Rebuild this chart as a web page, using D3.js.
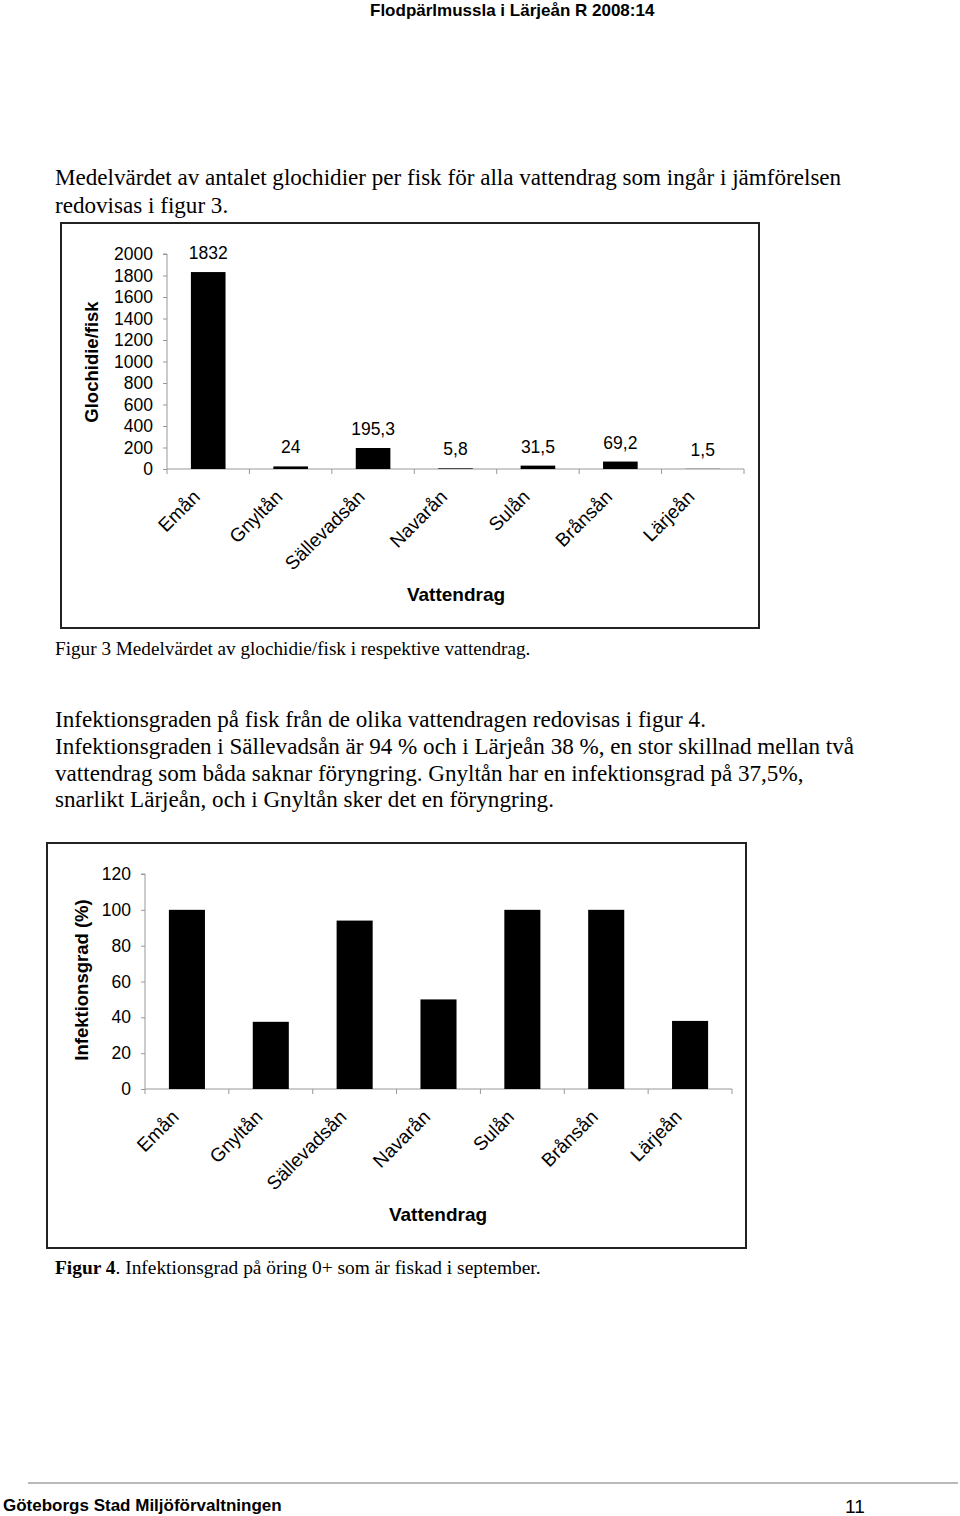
<!DOCTYPE html>
<html>
<head>
<meta charset="utf-8">
<script src="https://cdn.jsdelivr.net/npm/d3@7/dist/d3.min.js"></script>
<style>
  html, body { margin: 0; padding: 0; background: #fff; }
  svg { display: block; }
  .serif { font-family: "Liberation Serif", "Times New Roman", serif; fill: #000; }
  .sans { font-family: "Liberation Sans", Arial, sans-serif; fill: #000; }
</style>
</head>
<body>
<svg id="page" width="960" height="1516"></svg>
<script>
// ---- data ----
const categories = ["Emån", "Gnyltån", "Sällevadsån", "Navarån", "Sulån", "Brånsån", "Lärjeån"];
const glochidier = [1832, 24, 195.3, 5.8, 31.5, 69.2, 1.5];
const infektionsgrad = [100, 37.5, 94, 50, 100, 100, 38];
const ticks1 = [0, 200, 400, 600, 800, 1000, 1200, 1400, 1600, 1800, 2000];
const ticks2 = [0, 20, 40, 60, 80, 100, 120];

const svg = d3.select("#page");
svg.append("rect").attr("width", 960).attr("height", 1516).attr("fill", "#fff");

// ---- page text ----
svg.append("text").attr("class", "sans").attr("x", 370).attr("y", 16)
  .attr("font-size", 17).attr("font-weight", "bold")
  .text("Flodpärlmussla i Lärjeån R 2008:14");

function serifLine(txt, x, y, size) {
  return svg.append("text").attr("class", "serif").attr("x", x).attr("y", y)
    .attr("font-size", size).text(txt);
}
serifLine("Medelvärdet av antalet glochidier per fisk för alla vattendrag som ingår i jämförelsen", 55, 185, 23.1);
serifLine("redovisas i figur 3.", 55, 213, 23.1);
serifLine("Figur 3 Medelvärdet av glochidie/fisk i respektive vattendrag.", 55, 655, 19.2);
serifLine("Infektionsgraden på fisk från de olika vattendragen redovisas i figur 4.", 55, 727, 23.1);
serifLine("Infektionsgraden i Sällevadsån är 94 % och i Lärjeån 38 %, en stor skillnad mellan två", 55, 754, 23.1);
serifLine("vattendrag som båda saknar föryngring. Gnyltån har en infektionsgrad på 37,5%,", 55, 781, 23.1);
serifLine("snarlikt Lärjeån, och i Gnyltån sker det en föryngring.", 55, 807, 23.1);
const fig4 = svg.append("text").attr("class", "serif").attr("x", 55).attr("y", 1274).attr("font-size", 19.4);
fig4.append("tspan").attr("font-weight", "bold").text("Figur 4");
fig4.append("tspan").text(". Infektionsgrad på öring 0+ som är fiskad i september.");

// footer
svg.append("line").attr("x1", 28).attr("x2", 958).attr("y1", 1483).attr("y2", 1483)
  .attr("stroke", "#777").attr("stroke-width", 1.2);
svg.append("text").attr("class", "sans").attr("x", 3).attr("y", 1511)
  .attr("font-size", 17).attr("font-weight", "bold").text("Göteborgs Stad Miljöförvaltningen");
svg.append("text").attr("class", "sans").attr("x", 845).attr("y", 1513)
  .attr("font-size", 19).text("11");

// ---- chart builder ----
function barChart(opt) {
  const g = svg.append("g");
  // frame
  g.append("rect").attr("x", opt.frame[0]).attr("y", opt.frame[1])
    .attr("width", opt.frame[2]).attr("height", opt.frame[3])
    .attr("fill", "#fff").attr("stroke", "#222").attr("stroke-width", 2);

  const x = d3.scaleBand().domain(categories).range(opt.xRange)
    .paddingInner(opt.pad).paddingOuter(opt.pad / 2);
  const y = d3.scaleLinear().domain(opt.yDomain).range(opt.yRange);

  // y axis
  const yAxis = d3.axisLeft(y).tickValues(opt.ticks).tickSize(4).tickPadding(10)
    .tickFormat(d3.format("d"));
  const ya = g.append("g").attr("transform", `translate(${opt.xRange[0]},0)`).call(yAxis);
  ya.select(".domain").attr("stroke", "#999").attr("d", `M-4,${opt.yRange[1]}H0V${opt.yRange[0]}`);
  ya.selectAll(".tick line").attr("stroke", "#999");
  ya.selectAll(".tick text").attr("font-family", "Liberation Sans, Arial, sans-serif")
    .attr("font-size", 17.5).attr("fill", "#000");

  // x axis line & boundary ticks
  const y0 = y(0);
  g.append("line").attr("x1", opt.xRange[0]).attr("x2", opt.xRange[1])
    .attr("y1", y0).attr("y2", y0).attr("stroke", "#999");
  const bounds = d3.range(categories.length + 1).map(i => x.range()[0] + i * x.step());
  g.selectAll("line.xt").data(bounds).join("line").attr("class", "xt")
    .attr("x1", d => d).attr("x2", d => d).attr("y1", y0).attr("y2", y0 + 5)
    .attr("stroke", "#999");

  // bars
  g.selectAll("rect.bar").data(opt.values).join("rect").attr("class", "bar")
    .attr("x", (d, i) => x(categories[i]))
    .attr("width", x.bandwidth())
    .attr("y", d => y(d))
    .attr("height", d => y0 - y(d))
    .attr("fill", "#000");

  // value labels
  if (opt.showValues) {
    g.selectAll("text.val").data(opt.values).join("text").attr("class", "val sans")
      .attr("x", (d, i) => x(categories[i]) + x.bandwidth() / 2)
      .attr("y", d => y(d) - 13)
      .attr("text-anchor", "middle").attr("font-size", 17.5)
      .text(d => String(d).replace(".", ","));
  }

  // category labels
  g.selectAll("text.cat").data(categories).join("text").attr("class", "cat sans")
    .attr("text-anchor", "end").attr("font-size", 19)
    .attr("transform", d => `translate(${x(d) + x.bandwidth() / 2 - 7},${y0 + 29}) rotate(-45)`)
    .text(d => d);

  // axis titles
  g.append("text").attr("class", "sans").attr("font-weight", "bold").attr("font-size", 18.5)
    .attr("text-anchor", "middle")
    .attr("transform", `translate(${opt.yTitlePos[0]},${opt.yTitlePos[1]}) rotate(-90)`)
    .attr("dy", "0.35em").text(opt.yTitle);
  g.append("text").attr("class", "sans").attr("font-weight", "bold").attr("font-size", 19)
    .attr("text-anchor", "middle").attr("x", opt.xTitlePos[0]).attr("y", opt.xTitlePos[1])
    .attr("dy", "0.35em").text("Vattendrag");
}

barChart({
  frame: [61, 223, 698, 405],
  xRange: [167, 744],
  yRange: [469, 254],
  yDomain: [0, 2000],
  ticks: ticks1,
  pad: 0.58,
  values: glochidier,
  showValues: true,
  yTitle: "Glochidie/fisk",
  yTitlePos: [92, 362],
  xTitlePos: [456, 594]
});

barChart({
  frame: [47, 843, 699, 405],
  xRange: [145, 732],
  yRange: [1089, 874],
  yDomain: [0, 120],
  ticks: ticks2,
  pad: 0.57,
  values: infektionsgrad,
  showValues: false,
  yTitle: "Infektionsgrad (%)",
  yTitlePos: [82, 980],
  xTitlePos: [438, 1214]
});
</script>
</body>
</html>
